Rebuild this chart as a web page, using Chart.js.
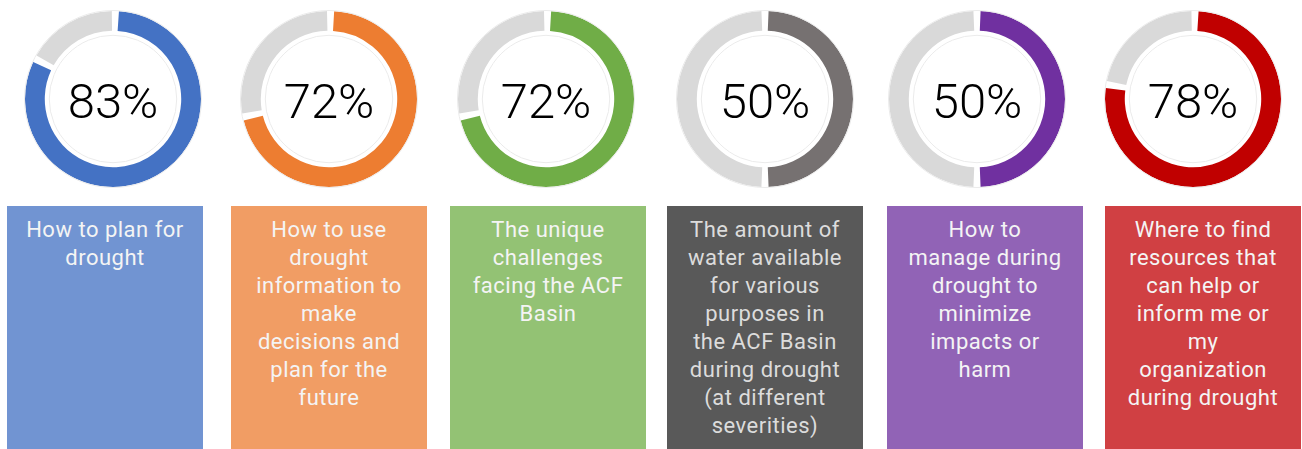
<!DOCTYPE html>
<html>
<head>
<meta charset="utf-8">
<script src="https://cdn.jsdelivr.net/npm/chart.js@4/dist/chart.umd.min.js"></script>
<style>
  html, body { margin: 0; padding: 0; background: #fff; }
  body { width: 1302px; height: 449px; position: relative; overflow: hidden; font-family: Roboto, "Noto Sans", sans-serif; }
  .ring { position: absolute; top: 9px; width: 180px; height: 180px; }
  .box {
    position: absolute; top: 206px; width: 196px; height: 243px;
    box-sizing: border-box; padding-top: 10px;
    color: #f4f4f4; font-size: 22px; line-height: 28px; text-align: center;
    letter-spacing: 0.5px;
  }
</style>
</head>
<body>
<script>
// survey topics and share of respondents
const topics = [
  ["How to plan for", "drought"],
  ["How to use", "drought", "information to", "make", "decisions and", "plan for the", "future"],
  ["The unique", "challenges", "facing the ACF", "Basin"],
  ["The amount of", "water available", "for various", "purposes in", "the ACF Basin", "during drought", "(at different", "severities)"],
  ["How to", "manage during", "drought to", "minimize", "impacts or", "harm"],
  ["Where to find", "resources that", "can help or", "inform me or", "my", "organization", "during drought"]
];
const percents = [83, 72, 72, 50, 50, 78];

const ringColors = ["#4472C4", "#ED7D31", "#70AD47", "#767171", "#7030A0", "#C00000"];
const boxColors = ["#7194D2", "#F19D64", "#93C274", "#595959", "#9163B6", "#D04043"];
const textColors = ["#f4f4f4", "#f4f4f4", "#f4f4f4", "#dcdcdc", "#f4f4f4", "#f4f4f4"];
const ringCenters = [113, 329, 546, 765, 977, 1193];
const boxLefts = [7, 231, 450, 667, 887, 1105];

// center label + faint outline rings
const centerText = {
  id: 'centerText',
  afterDraw(chart) {
    const arc = chart.getDatasetMeta(0).data[0];
    if (!arc) return;
    const ctx = chart.ctx;
    ctx.save();
    ctx.strokeStyle = '#ebebeb';
    ctx.lineWidth = 1;
    ctx.beginPath();
    ctx.arc(arc.x, arc.y, arc.outerRadius + 2.5, 0, Math.PI * 2);
    ctx.stroke();
    ctx.beginPath();
    ctx.arc(arc.x, arc.y, arc.innerRadius - 2.5, 0, Math.PI * 2);
    ctx.stroke();
    ctx.fillStyle = '#000';
    ctx.font = '300 49px Roboto';
    ctx.textAlign = 'center';
    ctx.textBaseline = 'alphabetic';
    ctx.fillText(chart.data.datasets[0].data[0] + '%', arc.x, arc.y + 19);
    ctx.restore();
  }
};

percents.forEach((p, i) => {
  const canvas = document.createElement('canvas');
  const wrap = document.createElement('div');
  wrap.className = 'ring';
  wrap.style.left = (ringCenters[i] - 90) + 'px';
  wrap.appendChild(canvas);
  document.body.appendChild(wrap);

  new Chart(canvas, {
    type: 'doughnut',
    data: {
      labels: ['Yes', 'Other'],
      datasets: [{
        data: [p, 100 - p],
        backgroundColor: [ringColors[i], '#D9D9D9'],
        borderWidth: 0,
        spacing: 4
      }]
    },
    options: {
      responsive: true,
      maintainAspectRatio: false,
      animation: false,
      cutout: '77%',
      layout: { padding: 2 },
      plugins: {
        legend: { display: false },
        tooltip: { enabled: false }
      }
    },
    plugins: [centerText]
  });

  const box = document.createElement('div');
  box.className = 'box';
  box.style.left = boxLefts[i] + 'px';
  box.style.background = boxColors[i];
  box.style.color = textColors[i];
  box.innerHTML = topics[i].join('<br>');
  document.body.appendChild(box);
});
</script>
</body>
</html>
